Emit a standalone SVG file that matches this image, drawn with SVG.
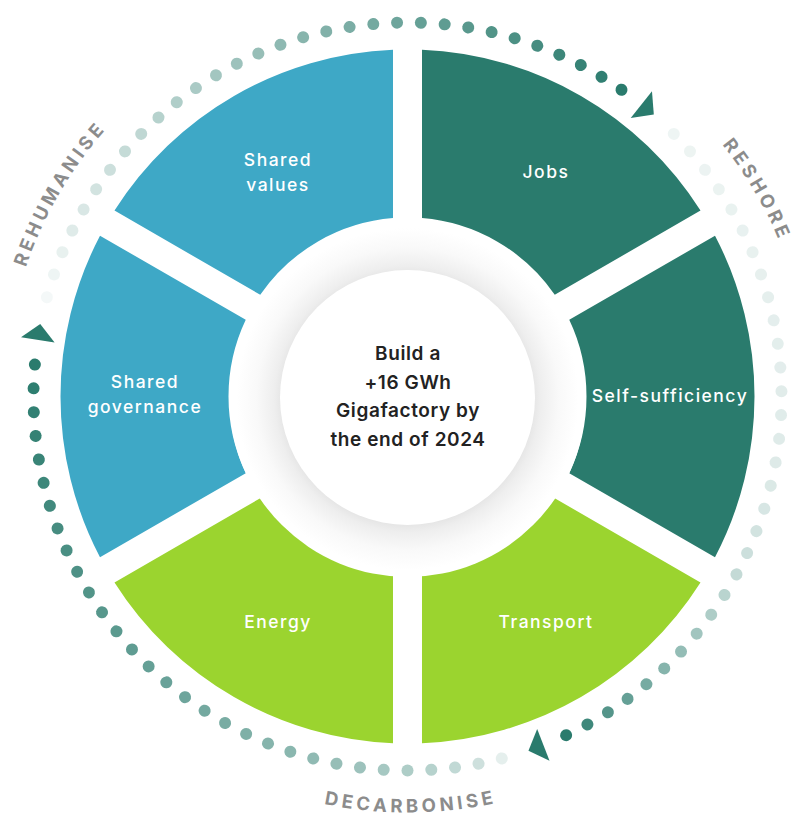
<svg xmlns="http://www.w3.org/2000/svg" xmlns:xlink="http://www.w3.org/1999/xlink" width="795" height="816" viewBox="0 0 795 816">
<style>
.seg-blue{fill:#3ea8c6}
.seg-green{fill:#2a7b6d}
.seg-lime{fill:#9bd42f}
.lbl{font-family:Inter,"Open Sans","Liberation Sans",sans-serif;font-size:17.5px;font-weight:500;fill:#ffffff;text-anchor:middle;letter-spacing:1.5px}
.ctr{font-family:Inter,"Open Sans","Liberation Sans",sans-serif;font-size:19px;font-weight:600;fill:#222222;text-anchor:middle;letter-spacing:0.6px}
.arc{font-family:Inter,"Open Sans","Liberation Sans",sans-serif;font-size:18.5px;font-weight:700;fill:#8c8c8c;letter-spacing:3.8px}
.dot{fill:#2a7b6d}
.arrow{fill:#2a7b6d}
</style>
<defs>
<path id="seg" d="M 14.5 -346.7 A 347 347 0 0 1 293.0 -185.9 L 147.26 -101.76 A 179 179 0 0 0 14.5 -178.41 Z"/>
<path id="arrowhead" d="M 0 -391 L 0 -357 L 16 -374 Z"/>
<circle id="d" cx="0" cy="-374" r="6"/>
<radialGradient id="shadow" cx="407.5" cy="399" r="180" gradientUnits="userSpaceOnUse">
<stop offset="0.68" stop-color="#e2e2e2"/>
<stop offset="0.74" stop-color="#eeeeee"/>
<stop offset="0.84" stop-color="#f9f9f9"/>
<stop offset="0.95" stop-color="#ffffff"/>
</radialGradient>
<path id="cwCircle" d="M 407.5 -6.5 A 403 403 0 1 1 407.5 799.5 A 403 403 0 1 1 407.5 -6.5"/>
<path id="ccwBottom" d="M -8.5 396.5 A 416 416 0 0 0 823.5 396.5"/>
</defs>
<rect width="795" height="816" fill="#ffffff"/>

<g id="dots">
<g id="arc-rehumanise" transform="translate(407.5 396.5)">
<use href="#d" class="dot" transform="rotate(285.4)" opacity="0.05"/>
<use href="#d" class="dot" transform="rotate(289.05)" opacity="0.08"/>
<use href="#d" class="dot" transform="rotate(292.7)" opacity="0.11"/>
<use href="#d" class="dot" transform="rotate(296.35)" opacity="0.15"/>
<use href="#d" class="dot" transform="rotate(300)" opacity="0.18"/>
<use href="#d" class="dot" transform="rotate(303.65)" opacity="0.21"/>
<use href="#d" class="dot" transform="rotate(307.3)" opacity="0.24"/>
<use href="#d" class="dot" transform="rotate(310.95)" opacity="0.27"/>
<use href="#d" class="dot" transform="rotate(314.6)" opacity="0.30"/>
<use href="#d" class="dot" transform="rotate(318.25)" opacity="0.34"/>
<use href="#d" class="dot" transform="rotate(321.9)" opacity="0.37"/>
<use href="#d" class="dot" transform="rotate(325.55)" opacity="0.40"/>
<use href="#d" class="dot" transform="rotate(329.2)" opacity="0.43"/>
<use href="#d" class="dot" transform="rotate(332.85)" opacity="0.46"/>
<use href="#d" class="dot" transform="rotate(336.5)" opacity="0.49"/>
<use href="#d" class="dot" transform="rotate(340.15)" opacity="0.53"/>
<use href="#d" class="dot" transform="rotate(343.8)" opacity="0.56"/>
<use href="#d" class="dot" transform="rotate(347.45)" opacity="0.59"/>
<use href="#d" class="dot" transform="rotate(351.1)" opacity="0.62"/>
<use href="#d" class="dot" transform="rotate(354.75)" opacity="0.65"/>
<use href="#d" class="dot" transform="rotate(358.4)" opacity="0.68"/>
<use href="#d" class="dot" transform="rotate(2.05)" opacity="0.72"/>
<use href="#d" class="dot" transform="rotate(5.7)" opacity="0.75"/>
<use href="#d" class="dot" transform="rotate(9.35)" opacity="0.78"/>
<use href="#d" class="dot" transform="rotate(13)" opacity="0.81"/>
<use href="#d" class="dot" transform="rotate(16.65)" opacity="0.84"/>
<use href="#d" class="dot" transform="rotate(20.3)" opacity="0.87"/>
<use href="#d" class="dot" transform="rotate(23.95)" opacity="0.91"/>
<use href="#d" class="dot" transform="rotate(27.6)" opacity="0.94"/>
<use href="#d" class="dot" transform="rotate(31.25)" opacity="0.97"/>
<use href="#d" class="dot" transform="rotate(34.9)" opacity="1"/>
<use href="#arrowhead" class="arrow" transform="rotate(38.7)"/>
</g>
<g id="arc-reshore" transform="translate(407.5 396.5)">
<use href="#d" class="dot" transform="rotate(45.4)" opacity="0.08"/>
<use href="#d" class="dot" transform="rotate(49.05)" opacity="0.085"/>
<use href="#d" class="dot" transform="rotate(52.7)" opacity="0.09"/>
<use href="#d" class="dot" transform="rotate(56.35)" opacity="0.095"/>
<use href="#d" class="dot" transform="rotate(60)" opacity="0.10"/>
<use href="#d" class="dot" transform="rotate(63.65)" opacity="0.105"/>
<use href="#d" class="dot" transform="rotate(67.3)" opacity="0.11"/>
<use href="#d" class="dot" transform="rotate(70.95)" opacity="0.115"/>
<use href="#d" class="dot" transform="rotate(74.6)" opacity="0.12"/>
<use href="#d" class="dot" transform="rotate(78.25)" opacity="0.125"/>
<use href="#d" class="dot" transform="rotate(81.9)" opacity="0.13"/>
<use href="#d" class="dot" transform="rotate(85.55)" opacity="0.135"/>
<use href="#d" class="dot" transform="rotate(89.2)" opacity="0.14"/>
<use href="#d" class="dot" transform="rotate(92.85)" opacity="0.145"/>
<use href="#d" class="dot" transform="rotate(96.5)" opacity="0.15"/>
<use href="#d" class="dot" transform="rotate(100.15)" opacity="0.155"/>
<use href="#d" class="dot" transform="rotate(103.8)" opacity="0.17"/>
<use href="#d" class="dot" transform="rotate(107.45)" opacity="0.19"/>
<use href="#d" class="dot" transform="rotate(111.1)" opacity="0.21"/>
<use href="#d" class="dot" transform="rotate(114.75)" opacity="0.24"/>
<use href="#d" class="dot" transform="rotate(118.4)" opacity="0.28"/>
<use href="#d" class="dot" transform="rotate(122.05)" opacity="0.33"/>
<use href="#d" class="dot" transform="rotate(125.7)" opacity="0.38"/>
<use href="#d" class="dot" transform="rotate(129.35)" opacity="0.44"/>
<use href="#d" class="dot" transform="rotate(133)" opacity="0.50"/>
<use href="#d" class="dot" transform="rotate(136.65)" opacity="0.57"/>
<use href="#d" class="dot" transform="rotate(140.3)" opacity="0.64"/>
<use href="#d" class="dot" transform="rotate(143.95)" opacity="0.72"/>
<use href="#d" class="dot" transform="rotate(147.6)" opacity="0.80"/>
<use href="#d" class="dot" transform="rotate(151.25)" opacity="0.90"/>
<use href="#d" class="dot" transform="rotate(154.9)" opacity="1"/>
<use href="#arrowhead" class="arrow" transform="rotate(158.7)"/>
</g>
<g id="arc-decarbonise" transform="translate(407.5 396.5)">
<use href="#d" class="dot" transform="rotate(165.4)" opacity="0.12"/>
<use href="#d" class="dot" transform="rotate(169.05)" opacity="0.23"/>
<use href="#d" class="dot" transform="rotate(172.7)" opacity="0.29"/>
<use href="#d" class="dot" transform="rotate(176.35)" opacity="0.34"/>
<use href="#d" class="dot" transform="rotate(180)" opacity="0.38"/>
<use href="#d" class="dot" transform="rotate(183.65)" opacity="0.42"/>
<use href="#d" class="dot" transform="rotate(187.3)" opacity="0.46"/>
<use href="#d" class="dot" transform="rotate(190.95)" opacity="0.49"/>
<use href="#d" class="dot" transform="rotate(194.6)" opacity="0.52"/>
<use href="#d" class="dot" transform="rotate(198.25)" opacity="0.55"/>
<use href="#d" class="dot" transform="rotate(201.9)" opacity="0.57"/>
<use href="#d" class="dot" transform="rotate(205.55)" opacity="0.60"/>
<use href="#d" class="dot" transform="rotate(209.2)" opacity="0.63"/>
<use href="#d" class="dot" transform="rotate(212.85)" opacity="0.65"/>
<use href="#d" class="dot" transform="rotate(216.5)" opacity="0.68"/>
<use href="#d" class="dot" transform="rotate(220.15)" opacity="0.70"/>
<use href="#d" class="dot" transform="rotate(223.8)" opacity="0.72"/>
<use href="#d" class="dot" transform="rotate(227.45)" opacity="0.75"/>
<use href="#d" class="dot" transform="rotate(231.1)" opacity="0.77"/>
<use href="#d" class="dot" transform="rotate(234.75)" opacity="0.79"/>
<use href="#d" class="dot" transform="rotate(238.4)" opacity="0.81"/>
<use href="#d" class="dot" transform="rotate(242.05)" opacity="0.83"/>
<use href="#d" class="dot" transform="rotate(245.7)" opacity="0.85"/>
<use href="#d" class="dot" transform="rotate(249.35)" opacity="0.87"/>
<use href="#d" class="dot" transform="rotate(253)" opacity="0.89"/>
<use href="#d" class="dot" transform="rotate(256.65)" opacity="0.91"/>
<use href="#d" class="dot" transform="rotate(260.3)" opacity="0.93"/>
<use href="#d" class="dot" transform="rotate(263.95)" opacity="0.95"/>
<use href="#d" class="dot" transform="rotate(267.6)" opacity="0.96"/>
<use href="#d" class="dot" transform="rotate(271.25)" opacity="0.98"/>
<use href="#d" class="dot" transform="rotate(274.9)" opacity="1"/>
<use href="#arrowhead" class="arrow" transform="rotate(278.7)"/>
</g>
</g>

<g id="cycle-labels">
<text class="arc"><textPath href="#cwCircle" startOffset="83.4%" text-anchor="middle">REHUMANISE</textPath></text>
<text class="arc"><textPath href="#cwCircle" startOffset="16.5%" text-anchor="middle">RESHORE</textPath></text>
<text class="arc"><textPath href="#ccwBottom" startOffset="50.25%" text-anchor="middle">DECARBONISE</textPath></text>
</g>

<g id="segments" transform="translate(407.5 396.5)">
<g id="jobs"><use href="#seg" class="seg-green"/></g>
<g id="self-sufficiency"><use href="#seg" class="seg-green" transform="rotate(60)"/></g>
<g id="transport"><use href="#seg" class="seg-lime" transform="rotate(120)"/></g>
<g id="energy"><use href="#seg" class="seg-lime" transform="rotate(180)"/></g>
<g id="shared-governance"><use href="#seg" class="seg-blue" transform="rotate(240)"/></g>
<g id="shared-values"><use href="#seg" class="seg-blue" transform="rotate(300)"/></g>
</g>

<g id="segment-labels">
<text class="lbl" x="278" y="166">Shared</text>
<text class="lbl" x="278" y="191">values</text>
<text class="lbl" x="546" y="178">Jobs</text>
<text class="lbl" x="670" y="402">Self-sufficiency</text>
<text class="lbl" x="546" y="628">Transport</text>
<text class="lbl" x="278" y="628">Energy</text>
<text class="lbl" x="145" y="388">Shared</text>
<text class="lbl" x="145" y="413">governance</text>
</g>

<g id="center">
<circle cx="407.5" cy="399" r="178" fill="url(#shadow)"/>
<circle cx="407.5" cy="397.5" r="127.5" fill="#ffffff"/>
<text class="ctr" x="408" y="360">Build a</text>
<text class="ctr" x="408" y="388.5">+16 GWh</text>
<text class="ctr" x="408" y="417">Gigafactory by</text>
<text class="ctr" x="408" y="445.5">the end of 2024</text>
</g>
</svg>
